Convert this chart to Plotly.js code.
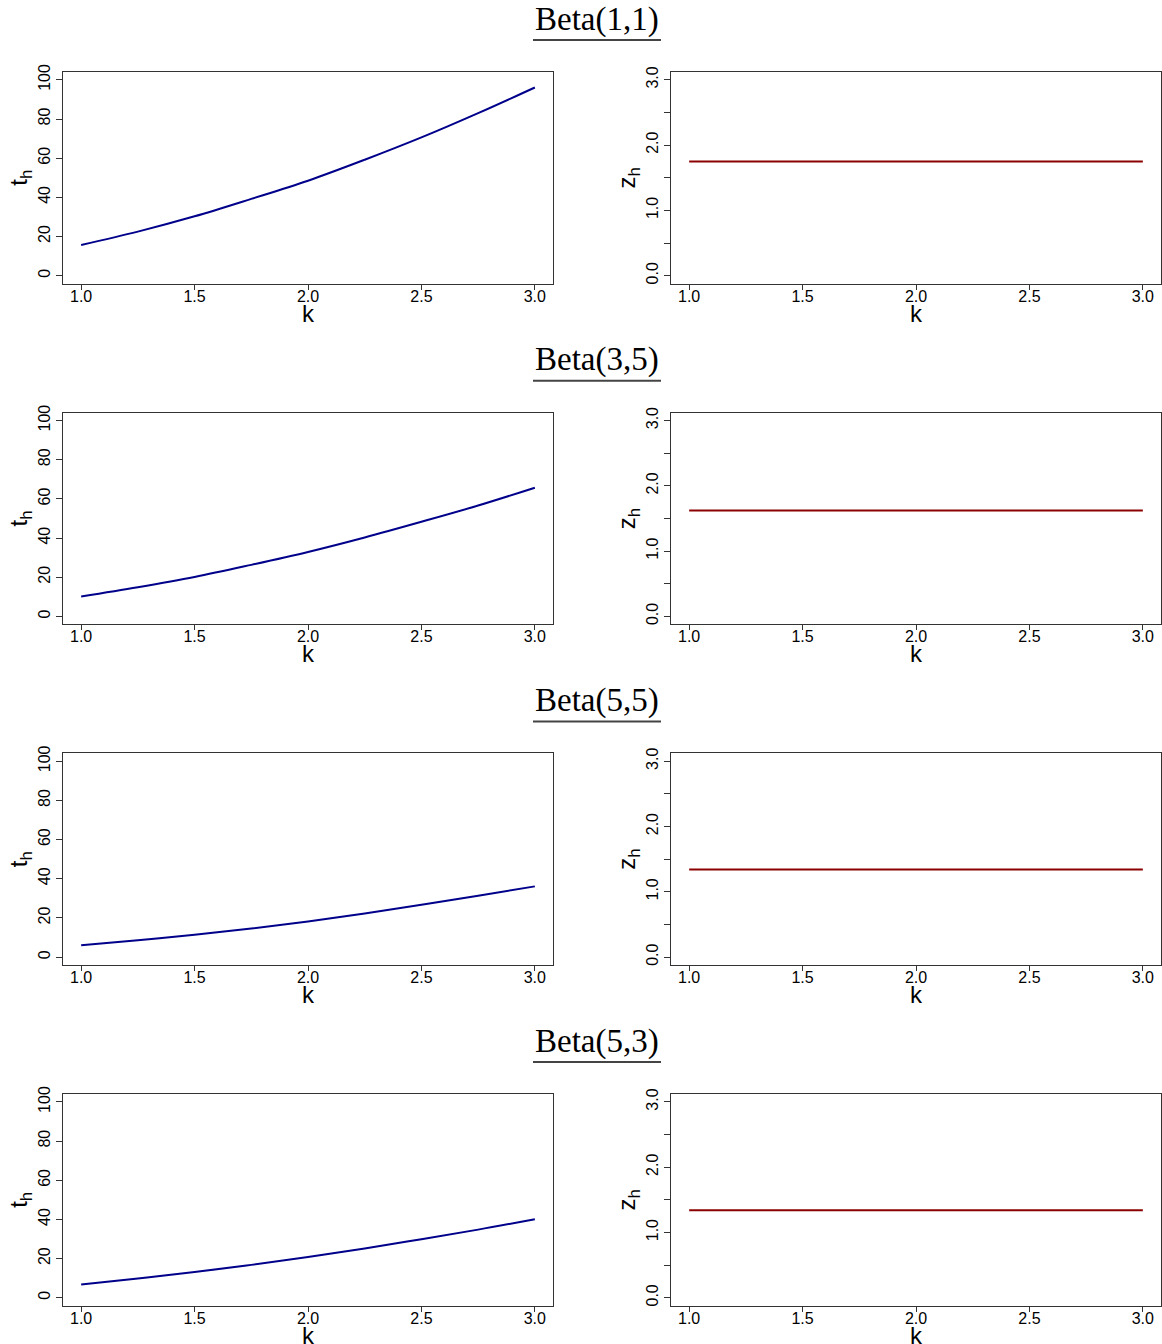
<!DOCTYPE html>
<html>
<head>
<meta charset="utf-8">
<script src="https://cdn.plot.ly/plotly-3.0.1.min.js"></script>
<style>html,body{margin:0;padding:0;background:#fff;}</style>
</head>
<body>
<div id="chart" style="width:1162px;height:1344px;"></div>
<script>
// ---- data ----
const panelTitles = ['Beta(1,1)', 'Beta(3,5)', 'Beta(5,5)', 'Beta(5,3)'];
const k = [1.0, 1.25, 1.5, 1.75, 2.0, 2.25, 2.5, 2.75, 3.0];
const th_beta11 = [15.7, 22.5, 30.3, 39.2, 48.5, 59.2, 70.6, 83.0, 96.1];
const th_beta35 = [10.2, 14.9, 20.1, 26.3, 32.9, 40.3, 48.3, 56.6, 65.7];
const th_beta55 = [6.0, 8.6, 11.4, 14.6, 18.2, 22.3, 26.7, 31.3, 36.1];
const th_beta53 = [6.8, 9.8, 13.1, 16.8, 20.8, 25.2, 29.9, 34.8, 40.1];
const kz = [1.0, 3.0];
const zh_beta11 = [1.75, 1.75];
const zh_beta35 = [1.62, 1.62];
const zh_beta55 = [1.34, 1.34];
const zh_beta53 = [1.34, 1.34];
const xTickVals = [1.0, 1.5, 2.0, 2.5, 3.0];
const xTickText = ['1.0', '1.5', '2.0', '2.5', '3.0'];
const thTickVals = [0, 20, 40, 60, 80, 100];
const thTickText = ['0', '20', '40', '60', '80', '100'];
const zhTickVals = [0, 0.5, 1.0, 1.5, 2.0, 2.5, 3.0];
const zhTickText = ['0.0', '', '1.0', '', '2.0', '', '3.0'];
const xTitle = 'k';
const thTitle = 't<sub>h</sub>';
const zhTitle = 'z<sub>h</sub>';

const thSeries = [th_beta11, th_beta35, th_beta55, th_beta53];
const zhSeries = [zh_beta11, zh_beta35, zh_beta55, zh_beta53];

// ---- layout geometry (pixels) ----
const W = 1162, H = 1344;
const rowStep = 340.7;
const boxTop0 = 72, boxBot0 = 283.5;
const leftX = [63, 553], rightX = [671, 1161];
const titleY0 = 19, underlineY0 = 40, kTitleY0 = 313;

const axisLine = '#333';
const tickFont = {family: 'Liberation Sans, Arial, sans-serif', size: 16, color: '#000'};
const titleFont = {family: 'Liberation Sans, Arial, sans-serif', size: 24, color: '#000'};

const data = [];
const layout = {
  width: W, height: H,
  margin: {l: 0, r: 0, t: 0, b: 0},
  paper_bgcolor: '#fff', plot_bgcolor: '#fff',
  showlegend: false,
  annotations: [], shapes: []
};

function baseAxis() {
  return {
    showline: true, mirror: true, linecolor: axisLine, linewidth: 1,
    ticks: 'outside', ticklen: 5, tickwidth: 1, tickcolor: axisLine,
    showgrid: false, zeroline: false, tickfont: tickFont, fixedrange: true
  };
}

for (let r = 0; r < 4; r++) {
  const top = boxTop0 + rowStep * r, bot = boxBot0 + rowStep * r;
  const yDom = [1 - bot / H, 1 - top / H];
  for (let c = 0; c < 2; c++) {
    const i = 2 * r + c + 1;
    const xn = 'x' + i, yn = 'y' + i;
    const xs = c === 0 ? leftX : rightX;
    const xa = Object.assign(baseAxis(), {
      domain: [xs[0] / W, xs[1] / W], anchor: yn, range: [0.92, 3.08],
      tickmode: 'array', tickvals: xTickVals, ticktext: xTickText,
      ticklabelstandoff: -7
    });
    const ya = Object.assign(baseAxis(), {
      domain: yDom, anchor: xn, tickangle: -90, ticklen: 6
    });
    if (c === 0) {
      Object.assign(ya, {range: [-4, 104], tickmode: 'array', tickvals: thTickVals, ticktext: thTickText,
        title: {text: thTitle, font: titleFont, standoff: 1}});
      data.push({x: k, y: thSeries[r], xaxis: xn, yaxis: yn, type: 'scatter', mode: 'lines',
        line: {color: '#00008B', width: 2, shape: 'spline', smoothing: 1}, hoverinfo: 'skip'});
    } else {
      Object.assign(ya, {range: [-0.12, 3.12], tickmode: 'array', tickvals: zhTickVals, ticktext: zhTickText,
        title: {text: zhTitle, font: titleFont, standoff: 1}});
      data.push({x: kz, y: zhSeries[r], xaxis: xn, yaxis: yn, type: 'scatter', mode: 'lines',
        line: {color: '#8B0000', width: 2}, hoverinfo: 'skip'});
    }
    layout['xaxis' + (i === 1 ? '' : i)] = xa;
    layout['yaxis' + (i === 1 ? '' : i)] = ya;
    // x-axis title placed tight under the tick labels, as in the reference
    layout.annotations.push({
      text: xTitle, xref: 'paper', yref: 'paper',
      x: ((xs[0] + xs[1]) / 2) / W, y: 1 - (kTitleY0 + rowStep * r) / H,
      xanchor: 'center', yanchor: 'middle', showarrow: false, font: titleFont
    });
  }
  layout.annotations.push({
    text: panelTitles[r], xref: 'paper', yref: 'paper',
    x: 597 / W, y: 1 - (titleY0 + rowStep * r) / H, xanchor: 'center', yanchor: 'middle',
    showarrow: false, font: {family: 'Liberation Serif, Times New Roman, serif', size: 33, color: '#000'}
  });
  const uy = 1 - (underlineY0 + rowStep * r) / H;
  layout.shapes.push({type: 'line', xref: 'paper', yref: 'paper', x0: 533 / W, x1: 661 / W, y0: uy, y1: uy,
    line: {color: '#444', width: 2}});
}

Plotly.newPlot('chart', data, layout, {staticPlot: true, displayModeBar: false});
</script>
</body>
</html>
